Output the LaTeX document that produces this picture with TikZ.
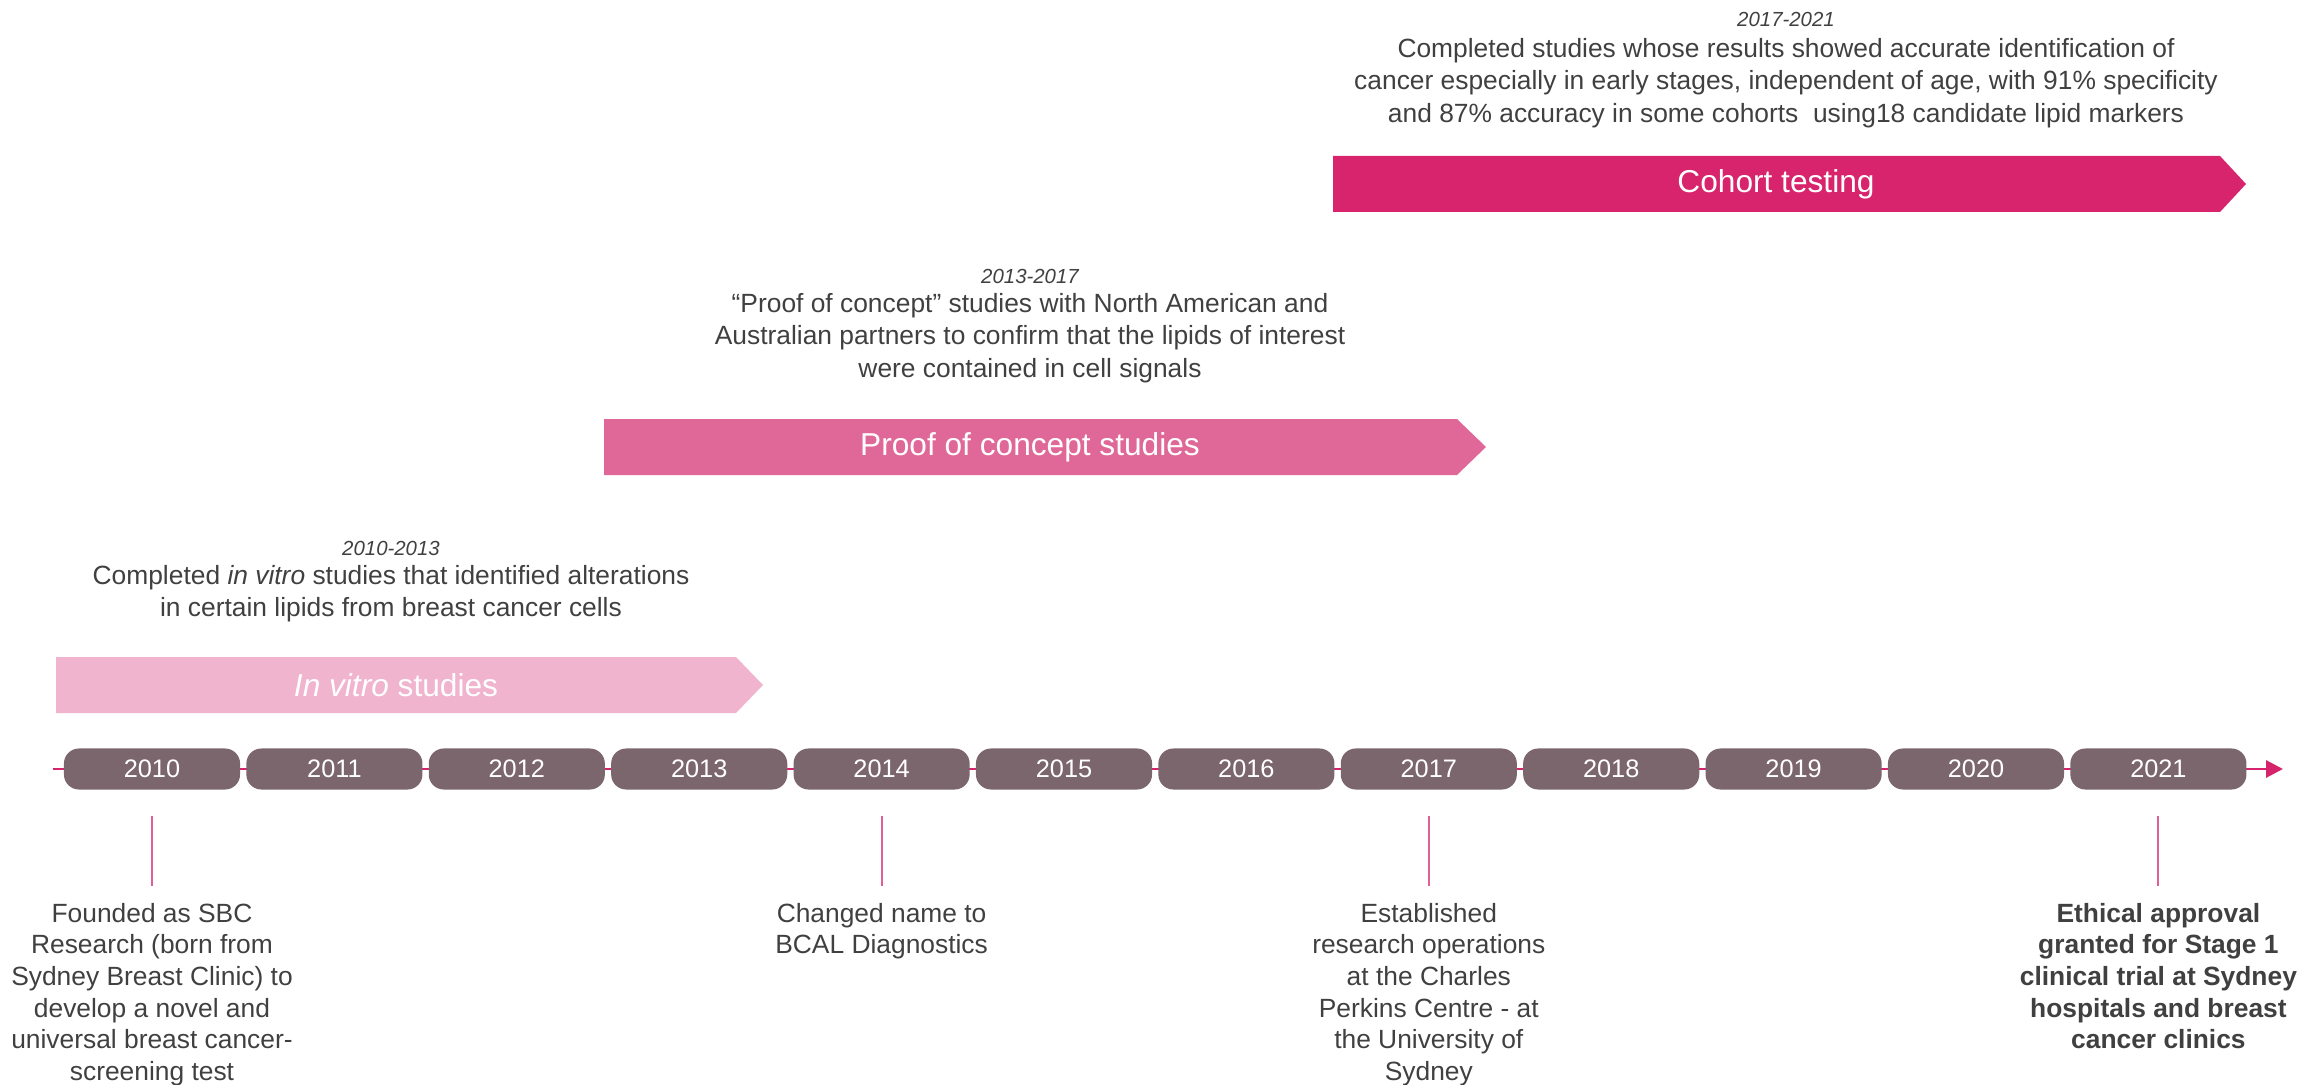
\documentclass[tikz,border=0pt]{standalone}
\usepackage{fontspec}
\setmainfont{Liberation Sans}
\usetikzlibrary{arrows.meta}

\definecolor{pillgrey}{RGB}{123,102,110}
\definecolor{linepink}{RGB}{214,36,108}
\definecolor{tickpink}{RGB}{224,96,150}
\definecolor{vitropink}{RGB}{240,180,206}
\definecolor{proofpink}{RGB}{224,104,152}
\definecolor{cohortpink}{RGB}{215,36,108}
\definecolor{textgrey}{RGB}{64,64,64}

\begin{document}
\begin{tikzpicture}[x=0.01cm, y=-0.01cm,
  every node/.style={inner sep=0pt, outer sep=0pt, text=textgrey},
  year/.style={fill=pillgrey, rounded corners=0.15cm, minimum width=1.76cm, minimum height=0.41cm, text=white, font=\fontsize{7.2}{8}\selectfont},
  phase/.style={text=white, font=\fontsize{9}{11}\selectfont},
  date/.style={font=\fontsize{5.8}{7}\selectfont\itshape},
  info/.style={align=center, anchor=north, font=\fontsize{7.5}{9.3}\selectfont},
  milestone/.style={align=center, anchor=north, font=\fontsize{7.5}{9.0}\selectfont},
  tick/.style={draw=tickpink, line width=0.6pt}]
\useasboundingbox (0,0) rectangle (2305,1085);

% timeline axis
\coordinate (start) at (53,769);
\coordinate (end) at (2283,769);
\draw[linepink, line width=0.85pt, -{Triangle[length=0.17cm, width=0.17cm]}] (start) -- (end);

\node[year] (y2010) at (152,769) {2010};
\node[year] (y2011) at (334.4,769) {2011};
\node[year] (y2012) at (516.8,769) {2012};
\node[year] (y2013) at (699.2,769) {2013};
\node[year] (y2014) at (881.6,769) {2014};
\node[year] (y2015) at (1064,769) {2015};
\node[year] (y2016) at (1246.4,769) {2016};
\node[year] (y2017) at (1428.8,769) {2017};
\node[year] (y2018) at (1611.2,769) {2018};
\node[year] (y2019) at (1793.6,769) {2019};
\node[year] (y2020) at (1976,769) {2020};
\node[year] (y2021) at (2158.4,769) {2021};

% phases
\fill[vitropink] (56,657) -- (736,657) -- (763,685) -- (736,713) -- (56,713) -- cycle;
\node[phase] (vitro) at (396,685) {\textit{In vitro} studies};
\node[date] (vitrodate) at (391,548) {2010-2013};
\node[info] (vitrotext) at (391,565) {Completed \textit{in vitro} studies that identified alterations\\in certain lipids from breast cancer cells};

\fill[proofpink] (604,419) -- (1457,419) -- (1486,447) -- (1457,475) -- (604,475) -- cycle;
\node[phase] (concept) at (1030,447) {Proof of concept studies};
\node[date] (conceptdate) at (1030,276) {2013-2017};
\node[info] (concepttext) at (1030,293) {“Proof of concept” studies with North American and\\Australian partners to confirm that the lipids of interest\\were contained in cell signals};

\fill[cohortpink] (1333,156) -- (2220,156) -- (2246,184) -- (2220,212) -- (1333,212) -- cycle;
\node[phase] (cohort) at (1776,184) {Cohort testing};
\node[date] (cohortdate) at (1786,19) {2017-2021};
\node[info] (cohorttext) at (1786,38) {Completed studies whose results showed accurate identification of\\cancer especially in early stages, independent of age, with 91\% specificity\\and 87\% accuracy in some cohorts\ \ using18 candidate lipid markers};

% milestones
\node[milestone] (found) at (152,903) {Founded as SBC\\Research (born from\\Sydney Breast Clinic) to\\develop a novel and\\universal breast cancer-\\screening test};
\node[milestone] (rename) at (881.6,903) {Changed name to\\BCAL Diagnostics};
\node[milestone] (perkins) at (1428.8,903) {Established\\research operations\\at the Charles\\Perkins Centre - at\\the University of\\Sydney};
\node[milestone, font=\fontsize{7.5}{9.0}\selectfont\bfseries] (ethics) at (2158.4,903) {Ethical approval\\granted for Stage 1\\clinical trial at Sydney\\hospitals and breast\\cancer clinics};

\draw[tick] ([yshift=-0.26cm]y2010.south) -- ([yshift=0.17cm]found.north);
\draw[tick] ([yshift=-0.26cm]y2014.south) -- ([yshift=0.17cm]rename.north);
\draw[tick] ([yshift=-0.26cm]y2017.south) -- ([yshift=0.17cm]perkins.north);
\draw[tick] ([yshift=-0.26cm]y2021.south) -- ([yshift=0.17cm]ethics.north);
\end{tikzpicture}
\end{document}
